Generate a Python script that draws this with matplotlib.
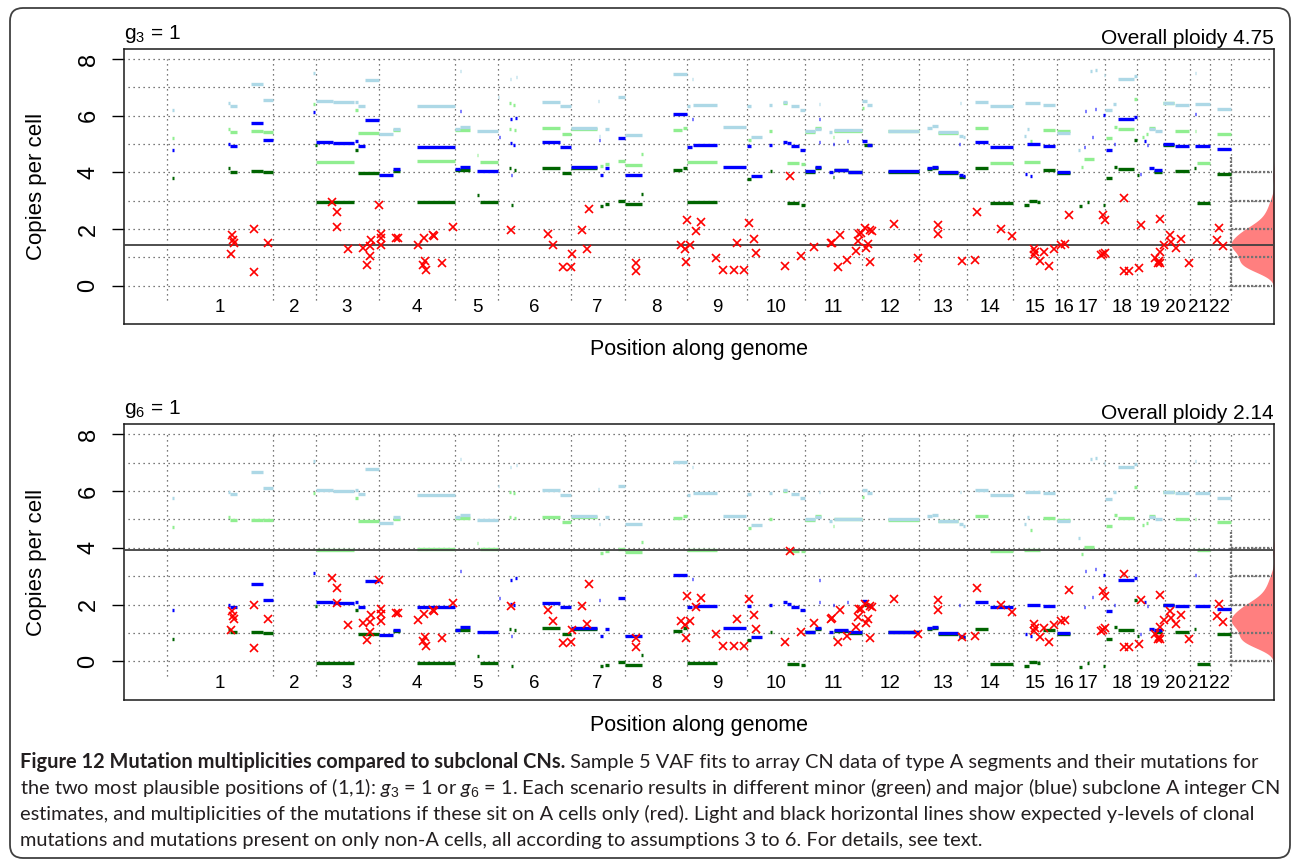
import numpy as np
import matplotlib

matplotlib.use("Agg")
import matplotlib.pyplot as plt
from matplotlib.patches import FancyBboxPatch

plt.rcParams["font.family"] = ["Liberation Sans", "DejaVu Sans"]
plt.rcParams["mathtext.fontset"] = "custom"
plt.rcParams["mathtext.rm"] = "Liberation Sans"
plt.rcParams["mathtext.it"] = "Lato:italic"

# genome axis: chromosome labels, label centres and boundaries (arbitrary genome units)
chrom_labels = [str(i) for i in range(1, 23)]
chrom_mid = [96, 170, 223, 293, 353, 410, 473, 532, 593, 652, 709,
             766, 819, 866, 911, 940, 964, 998, 1026, 1051, 1074, 1096]
chrom_bounds = [43, 149, 192, 255, 331, 374, 447, 501, 563, 623, 681,
                738, 795, 843, 889, 933, 981, 1013, 1041, 1066, 1086, 1107]

# segments: (start, end, y for g3 = 1, y for g6 = 1)
darkgreen_segs = [
    (48, 50, 3.80, 0.80), (104, 106, 4.15, 1.15), (106, 113, 4.02, 1.02),
    (127, 139, 4.04, 1.04), (139, 149, 4.00, 1.00), (191, 193, 4.95, 1.95),
    (192, 230, 2.95, -0.05), (231, 234, 4.80, 1.80), (234, 255, 3.98, 0.98),
    (269, 276, 4.06, 1.06), (293, 331, 2.96, -0.04), (331, 346, 4.10, 1.10),
    (353, 355, 3.20, 0.20), (356, 374, 2.94, -0.06), (385, 387, 4.15, 1.15),
    (390, 392, 4.10, 1.10), (387, 389, 2.83, -0.17), (418, 436, 4.16, 1.16),
    (438, 447, 3.96, 0.96), (447, 473, 4.14, 1.14), (476, 479, 2.82, -0.18),
    (481, 485, 2.88, -0.12), (494, 501, 2.98, -0.02), (501, 518, 2.88, -0.12),
    (517, 519, 3.22, 0.22), (549, 558, 4.08, 1.08), (559, 563, 4.16, 1.16),
    (563, 593, 2.94, -0.06), (623, 627, 3.76, 0.76), (646, 648, 4.04, 1.04),
    (663, 675, 2.91, -0.09), (677, 681, 2.86, -0.14), (681, 691, 4.02, 1.02),
    (691, 697, 4.15, 1.15), (709, 710, 3.85, 0.85), (710, 724, 4.07, 1.07),
    (724, 738, 4.00, 1.00), (740, 748, 4.98, 1.98), (764, 795, 4.02, 1.02),
    (803, 808, 4.13, 1.13), (808, 814, 4.17, 1.17), (814, 834, 3.97, 0.97),
    (835, 841, 3.85, 0.85), (851, 864, 4.15, 1.15), (866, 889, 2.91, -0.09),
    (900, 905, 2.85, -0.15), (905, 913, 2.98, -0.02), (913, 916, 2.95, -0.05),
    (919, 931, 4.09, 1.09), (933, 946, 3.98, 0.98), (955, 958, 2.80, -0.20),
    (963, 965, 2.95, -0.05), (979, 981, 2.83, -0.17), (982, 988, 3.80, 0.80),
    (990, 993, 4.20, 1.20), (994, 1010, 4.11, 1.11), (1010, 1013, 5.16, 2.16),
    (1013, 1015, 3.90, 0.90), (1030, 1038, 4.02, 1.02), (1039, 1050, 4.98, 1.98),
    (1051, 1065, 4.05, 1.05), (1070, 1072, 4.15, 1.15), (1073, 1086, 2.91, -0.09),
    (1093, 1107, 3.95, 0.95),
]

blue_segs = [
    (48, 50, 4.80, 1.80), (104, 106, 5.00, 2.00), (106, 113, 4.92, 1.92),
    (127, 139, 5.73, 2.73), (139, 149, 5.16, 2.16), (189, 191, 6.12, 3.12),
    (192, 209, 5.09, 2.09), (209, 230, 5.04, 2.04), (231, 234, 5.10, 2.10),
    (234, 241, 4.93, 1.93), (241, 255, 5.84, 2.84), (255, 269, 3.92, 0.92),
    (269, 276, 4.12, 1.12), (293, 331, 4.91, 1.91), (331, 336, 4.12, 1.12),
    (336, 346, 4.20, 1.20), (336, 337, 6.17, 3.17), (353, 374, 4.04, 1.04),
    (375, 376, 5.24, 2.24), (386, 388, 5.88, 2.88), (391, 393, 5.93, 2.93),
    (386, 388, 5.03, 2.03), (389, 391, 4.97, 1.97), (387, 388, 3.90, 0.90),
    (418, 436, 5.06, 2.06), (436, 447, 4.91, 1.91), (447, 473, 4.18, 1.18),
    (475, 476, 5.15, 2.15), (476, 479, 3.89, 0.89), (481, 485, 4.15, 1.15),
    (494, 501, 5.23, 2.23), (501, 518, 3.89, 0.89), (549, 563, 6.05, 3.05),
    (563, 568, 4.91, 1.91), (568, 569, 5.90, 2.90), (569, 593, 4.95, 1.95),
    (599, 622, 4.18, 1.18), (623, 627, 4.94, 1.94), (627, 638, 3.86, 0.86),
    (645, 648, 4.97, 1.97), (659, 663, 5.09, 2.09), (663, 667, 5.03, 2.03),
    (667, 675, 4.92, 1.92), (676, 681, 4.80, 1.80), (681, 691, 4.05, 1.05),
    (691, 697, 4.18, 1.18), (695, 696, 5.88, 2.88), (695, 696, 5.09, 2.09),
    (705, 709, 4.03, 1.03), (709, 710, 5.00, 2.00), (710, 724, 4.10, 1.10),
    (723, 724, 5.10, 2.10), (724, 738, 4.03, 1.03), (738, 743, 5.12, 2.12),
    (743, 748, 4.96, 1.96), (764, 795, 4.05, 1.05), (803, 808, 4.16, 1.16),
    (808, 814, 4.20, 1.20), (814, 834, 4.00, 1.00), (835, 839, 3.91, 0.91),
    (839, 841, 3.86, 0.86), (835, 836, 5.00, 2.00), (851, 864, 5.08, 2.08),
    (866, 889, 4.91, 1.91), (901, 903, 3.95, 0.95), (903, 916, 5.00, 2.00),
    (906, 908, 3.88, 0.88), (919, 931, 4.94, 1.94), (933, 946, 4.00, 1.00),
    (960, 961, 4.90, 1.90), (961, 962, 6.17, 3.17), (968, 969, 5.25, 2.25),
    (971, 972, 6.25, 3.25), (979, 981, 6.03, 3.03), (982, 988, 4.78, 1.78),
    (990, 991, 5.00, 2.00), (994, 1010, 5.87, 2.87), (1010, 1013, 5.94, 2.94),
    (1016, 1017, 3.95, 0.95), (1020, 1022, 5.10, 2.10), (1023, 1024, 4.95, 1.95),
    (1025, 1030, 4.15, 1.15), (1030, 1038, 4.10, 1.10), (1039, 1050, 5.00, 2.00),
    (1051, 1065, 4.94, 1.94), (1071, 1072, 6.05, 3.05), (1071, 1086, 4.94, 1.94),
    (1093, 1107, 4.83, 1.83),
]

lightgreen_segs = [
    (48, 50, 5.20, 4.74), (104, 106, 5.55, 5.09), (106, 113, 5.44, 4.98),
    (127, 139, 5.45, 4.99), (139, 149, 5.43, 4.97), (189, 191, 6.40, 5.94),
    (192, 230, 4.36, 3.94), (231, 234, 6.20, 5.74), (234, 255, 5.40, 4.94),
    (269, 276, 5.49, 5.03), (293, 331, 4.39, 3.97), (331, 346, 5.50, 5.04),
    (353, 354, 4.62, 4.18), (356, 374, 4.38, 3.96), (385, 387, 6.44, 5.98),
    (389, 391, 6.38, 5.92), (390, 392, 5.50, 5.04), (385, 387, 5.53, 5.07),
    (418, 436, 5.56, 5.10), (438, 447, 5.37, 4.91), (447, 473, 5.53, 5.07),
    (476, 479, 4.24, 3.82), (481, 485, 4.30, 3.88), (494, 501, 4.39, 3.97),
    (501, 518, 4.27, 3.85), (517, 519, 4.64, 4.20), (549, 558, 5.50, 5.04),
    (559, 563, 5.57, 5.11), (563, 593, 4.36, 3.94), (624, 627, 5.15, 4.69),
    (645, 648, 5.46, 5.00), (659, 663, 6.46, 6.00), (663, 675, 4.32, 3.90),
    (677, 681, 4.29, 3.87), (681, 691, 5.44, 4.98), (691, 697, 5.58, 5.12),
    (709, 710, 5.24, 4.78), (710, 738, 5.47, 5.01), (738, 740, 6.26, 5.80),
    (764, 795, 5.45, 4.99), (814, 834, 5.39, 4.93), (851, 864, 5.57, 5.11),
    (866, 889, 4.32, 3.90), (900, 916, 4.36, 3.94), (906, 908, 5.10, 4.64),
    (919, 931, 5.50, 5.04), (933, 946, 5.45, 4.99), (960, 970, 4.47, 4.04),
    (957, 959, 4.20, 3.78), (982, 988, 5.23, 4.77), (990, 993, 5.60, 5.14),
    (994, 1010, 5.52, 5.06), (1010, 1013, 6.59, 6.13), (1018, 1020, 5.25, 4.79),
    (1022, 1024, 5.35, 4.89), (1025, 1031, 5.57, 5.11), (1039, 1050, 6.44, 5.98),
    (1051, 1065, 5.47, 5.01), (1071, 1072, 5.47, 5.01), (1073, 1086, 4.33, 3.91),
    (1093, 1107, 5.37, 4.91),
]

lightblue_segs = [
    (48, 50, 6.20, 5.74), (104, 106, 6.44, 5.98), (106, 113, 6.35, 5.89),
    (127, 139, 7.14, 6.68), (139, 149, 6.57, 6.11), (189, 191, 7.50, 7.04),
    (192, 209, 6.51, 6.05), (209, 230, 6.47, 6.01), (231, 234, 6.50, 6.04),
    (234, 241, 6.35, 5.89), (241, 255, 7.25, 6.79), (255, 269, 5.34, 4.88),
    (269, 276, 5.53, 5.07), (293, 331, 6.33, 5.87), (331, 336, 5.53, 5.07),
    (336, 346, 5.61, 5.15), (336, 337, 7.60, 7.14), (353, 374, 5.45, 4.99),
    (374, 375, 6.65, 6.19), (386, 387, 7.30, 6.84), (392, 393, 7.37, 6.91),
    (418, 436, 6.50, 6.04), (436, 447, 6.33, 5.87), (447, 473, 5.57, 5.11),
    (474, 475, 6.53, 6.07), (475, 476, 5.30, 4.84), (481, 485, 5.55, 5.09),
    (494, 501, 6.65, 6.19), (501, 518, 5.31, 4.85), (549, 563, 7.47, 7.01),
    (568, 569, 7.30, 6.84), (563, 566, 6.33, 5.87), (569, 593, 6.38, 5.92),
    (599, 622, 5.59, 5.13), (623, 627, 6.35, 5.89), (627, 638, 5.26, 4.80),
    (645, 648, 6.39, 5.93), (659, 663, 6.50, 6.04), (667, 675, 6.35, 5.89),
    (676, 681, 6.21, 5.75), (681, 691, 5.46, 5.00), (691, 697, 5.55, 5.09),
    (695, 696, 6.43, 5.97), (705, 708, 5.42, 4.96), (710, 738, 5.49, 5.03),
    (738, 743, 6.51, 6.05), (743, 748, 6.38, 5.92), (764, 795, 5.47, 5.01),
    (803, 808, 5.58, 5.12), (808, 814, 5.63, 5.17), (814, 834, 5.41, 4.95),
    (835, 839, 5.30, 4.84), (839, 841, 5.24, 4.78), (836, 837, 6.44, 5.98),
    (851, 864, 6.50, 6.04), (866, 889, 6.33, 5.87), (900, 902, 5.30, 4.84),
    (903, 905, 5.55, 5.09), (901, 916, 6.44, 5.98), (919, 931, 6.38, 5.92),
    (933, 946, 5.39, 4.93), (954, 956, 4.80, 4.36), (966, 968, 7.57, 7.11),
    (971, 973, 7.62, 7.16), (980, 981, 7.43, 6.97), (981, 988, 6.19, 5.73),
    (989, 992, 6.41, 5.95), (994, 1010, 7.30, 6.84), (1010, 1013, 7.42, 6.96),
    (1025, 1031, 5.55, 5.09), (1031, 1038, 5.46, 5.00), (1039, 1050, 6.44, 5.98),
    (1051, 1065, 6.38, 5.92), (1071, 1072, 7.50, 7.04), (1071, 1086, 6.40, 5.94),
    (1093, 1107, 6.23, 5.77),
]

# mutation multiplicities (same in both scenarios)
mut_x = [108, 109, 110, 107, 130, 130, 144,
         208, 213, 213, 224, 239, 247, 246, 246, 243, 255, 257, 257, 257, 272, 274,
         294, 300, 309, 310, 301, 302, 299, 318, 329,
         387, 424, 429,
         465, 458, 463, 448, 439, 447,
         512, 512, 563, 557, 561, 566, 562,
         572, 577, 592, 599, 610, 620, 613,
         625, 630, 632, 666, 661, 677,
         690, 707, 708, 716, 714, 723, 732, 734, 735, 737,
         741, 746, 748, 742, 744, 746, 770, 794,
         814, 814, 838,
         851, 853, 877, 888,
         910, 910, 911, 920, 916, 925, 930, 937, 941,
         945, 979, 981, 977, 981, 979,
         1000, 1000, 1005, 1015,
         1017, 1036, 1031, 1034, 1036, 1035, 1036, 1040,
         1046, 1047, 1052, 1057, 1065,
         1095, 1093, 1099]
mut_y = [1.77, 1.60, 1.50, 1.10, 2.00, 0.48, 1.49,
         2.95, 2.60, 2.07, 1.28, 1.34, 1.62, 1.40, 1.04, 0.74, 2.85, 1.83, 1.68, 1.42, 1.69, 1.69,
         1.44, 1.68, 1.80, 1.76, 0.87, 0.54, 0.73, 0.81, 2.07,
         1.95, 1.81, 1.42,
         2.71, 1.95, 1.30, 1.12, 0.66, 0.67,
         0.81, 0.51, 2.32, 1.42, 1.28, 1.42, 0.83,
         1.91, 2.23, 0.97, 0.54, 0.54, 0.54, 1.51,
         2.20, 1.64, 1.14, 3.88, 0.68, 1.04,
         1.36, 1.50, 1.52, 1.80, 0.67, 0.90, 1.22, 1.56, 1.83, 1.86,
         2.03, 1.95, 1.91, 1.34, 1.48, 0.83, 2.18, 0.97,
         2.15, 1.81, 0.86,
         0.91, 2.60, 2.00, 1.75,
         1.30, 1.07, 1.18, 1.18, 0.87, 0.69, 1.28, 1.42, 1.45,
         2.50, 2.48, 2.30, 1.07, 1.16, 1.12,
         3.09, 0.50, 0.50, 0.62,
         2.15, 2.34, 0.97, 0.80, 0.78, 0.85, 1.20, 1.44,
         1.77, 1.54, 1.33, 1.63, 0.80,
         2.03, 1.60, 1.38]

panel_titles = [r"g$_3$ = 1", r"g$_6$ = 1"]
ploidy_text = ["Overall ploidy 4.75", "Overall ploidy 2.14"]
nonA_level = [1.42, 3.93]   # black line: mutations on non-A cells only

W, H = 1293, 861
fig = plt.figure(figsize=(W / 100, H / 100), dpi=100)

# rounded frame round the whole figure
frame = FancyBboxPatch((0.10, 0.03), 12.80, 8.50, boxstyle="round,pad=0,rounding_size=0.13",
                       transform=fig.dpi_scale_trans, fill=False, edgecolor="0.25", lw=1.3)
fig.add_artist(frame)

axes_px = [(49, 324), (424, 700)]
xlab_py = [350, 725]

# density of multiplicities (drawn sideways on the right)
mut_arr = np.array(mut_y)
bw = 0.22
dens_y = np.linspace(mut_arr.min() - 3 * bw, mut_arr.max() + 3 * bw, 400)
dens = np.exp(-0.5 * ((dens_y[:, None] - mut_arr[None, :]) / bw) ** 2).sum(axis=1)
dens = dens / dens.max()

XMAX = 1150
for k in range(2):
    top, bot = axes_px[k]
    ax = fig.add_axes([124 / W, 1 - bot / H, 1150 / W, (bot - top) / H])
    ax.set_xlim(0, XMAX)
    ax.set_ylim(-1.36, 8.36)

    # grid
    ax.hlines(range(9), 4, XMAX - 2, colors="0.3", lw=0.9, linestyles=(0, (1, 3)), zorder=1)
    ax.vlines(chrom_bounds, -0.5, 8, colors="0.3", lw=0.9, linestyles=(0, (1, 3)), zorder=1)

    # density panel on the right
    d_left = chrom_bounds[-1]
    ax.fill_betweenx(dens_y, XMAX - (XMAX - d_left) * dens, XMAX, color="#ff7f7f", lw=0, zorder=2)
    ax.hlines(range(5), d_left, XMAX - 2, colors="0.45", lw=1.6, linestyles=(0, (1, 0.8)), zorder=3)
    ax.vlines([d_left], dens_y[0], dens_y[-1], colors="0.45", lw=1.6, linestyles=(0, (1, 0.8)), zorder=3)

    for segs, col in [(lightgreen_segs, "#90ee90"), (lightblue_segs, "#add8e6"),
                      (darkgreen_segs, "#006400"), (blue_segs, "#0000ff")]:
        x0, x1, y3, y6 = zip(*segs)
        yy = y3 if k == 0 else y6
        lc = ax.hlines(yy, x0, x1, colors=col, lw=2.4, zorder=4)
        lc.set_capstyle("butt")

    ax.axhline(nonA_level[k], color="0.25", lw=1.3, zorder=5)
    ax.plot(mut_x, mut_y, ls="none", marker="x", ms=5.8, mew=1.2, color="red", zorder=6)

    for lab, xm in zip(chrom_labels, chrom_mid):
        ax.text(xm, -0.77, lab, ha="center", va="center", fontsize=13.5)

    ax.set_xticks([])
    ax.set_yticks([0, 2, 4, 6, 8])
    ax.tick_params(axis="y", length=8.6, width=1.0, labelsize=17, pad=9, labelrotation=90)
    for lbl in ax.get_yticklabels():
        lbl.set_va("center")
    for sp in ax.spines.values():
        sp.set_linewidth(1.1)
        sp.set_color("0.1")

    ax.annotate(panel_titles[k], xy=(0, 1), xycoords="axes fraction", xytext=(0, 7),
                textcoords="offset points", ha="left", va="baseline", fontsize=15)
    ax.annotate(ploidy_text[k], xy=(1, 1), xycoords="axes fraction", xytext=(0, 3.5),
                textcoords="offset points", ha="right", va="baseline", fontsize=15)

    fig.text(37 / W, 1 - (top + bot) / 2 / H, "Copies per cell", rotation=90,
             ha="center", va="center", fontsize=16)
    fig.text(699 / W, 1 - xlab_py[k] / H, "Position along genome",
             ha="center", va="center", fontsize=15.5)

# caption
cap_bold = "Figure 12 Mutation multiplicities compared to subclonal CNs."
cap_lines = [
    " Sample 5 VAF fits to array CN data of type A segments and their mutations for",
    r"the two most plausible positions of (1,1): $g_3$ = 1 or $g_6$ = 1. Each scenario results in different minor (green) and major (blue) subclone A integer CN",
    "estimates, and multiplicities of the mutations if these sit on A cells only (red). Light and black horizontal lines show expected y-levels of clonal",
    "mutations and mutations present on only non-A cells, all according to assumptions 3 to 6. For details, see text.",
]
cap_font = "Lato"
renderer = fig.canvas.get_renderer()


def text_width(s, size, **kw):
    t = fig.text(0, 0, s, fontsize=size, family=cap_font, **kw)
    w = t.get_window_extent(renderer).width
    t.remove()
    return w


# fit the caption size so the two long lines both fit the available width
w_line1 = text_width(cap_bold, 10, weight="bold") + text_width(cap_lines[0], 10)
w_line2 = text_width(cap_lines[1], 10)
cap_size = 10 * 1257 / max(w_line1, w_line2)

cap_py = [768, 794, 820, 846]
tb = fig.text(20 / W, 1 - cap_py[0] / H, cap_bold, fontsize=cap_size, family=cap_font,
              weight="bold", va="baseline", color="#231f20")
bw_px = tb.get_window_extent(renderer).width
fig.text((20 + bw_px) / W, 1 - cap_py[0] / H, cap_lines[0], fontsize=cap_size,
         family=cap_font, va="baseline", color="#231f20")
for line, py in zip(cap_lines[1:], cap_py[1:]):
    fig.text(20 / W, 1 - py / H, line, fontsize=cap_size, family=cap_font,
             va="baseline", color="#231f20")

fig.savefig("out.png", dpi=100)
